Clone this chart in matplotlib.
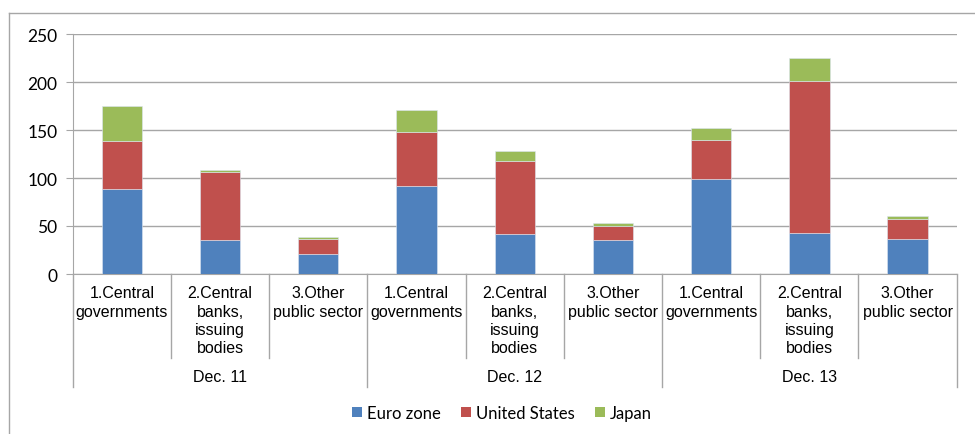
import numpy as np
import matplotlib.pyplot as plt
from matplotlib.lines import Line2D
from matplotlib.patches import Patch

groups = ["Dec. 11", "Dec. 12", "Dec. 13"]
categories = ["1.Central\ngovernments", "2.Central\nbanks,\nissuing\nbodies",
              "3.Other\npublic sector"]
series = ["Euro zone", "United States", "Japan"]
euro_zone = [89, 35, 21, 92, 42, 35, 99, 43, 36]
united_states = [50, 71, 15, 56, 76, 15, 41, 158, 21]
japan = [36, 2, 3, 23, 10, 3, 12, 24, 3]
colors = ["#4F81BD", "#C0504D", "#9BBB59"]


def main():
    fig = plt.figure(figsize=(9.75, 4.35), dpi=100)
    W, H = 975, 435
    ax = fig.add_axes([72.7 / W, (H - 275) / H, 884 / W, 240 / H])

    n = len(euro_zone)
    x = np.arange(n)
    bottom = np.zeros(n)
    for vals, col in zip([euro_zone, united_states, japan], colors):
        ax.bar(x, vals, width=0.41, bottom=bottom, color=col,
               edgecolor="#dce6f2", linewidth=0.4, zorder=3)
        bottom += np.array(vals)

    ax.set_xlim(-0.5, n - 0.5)
    ax.set_ylim(0, 250)
    ax.set_yticks(range(0, 251, 50))
    ax.yaxis.grid(True, color="#a6a6a6", linewidth=1.0, zorder=0)
    ax.tick_params(axis="y", length=5, color="#a6a6a6", labelsize=12.5, pad=6)
    for lab in ax.get_yticklabels():
        lab.set_fontfamily("Lato")
    ax.set_xticks([])
    for s in ["top", "right"]:
        ax.spines[s].set_visible(False)
    for s in ["left", "bottom"]:
        ax.spines[s].set_color("#a6a6a6")

    # multi-level category axis
    tr = ax.get_xaxis_transform()
    for i in range(n + 1):
        y_end = -0.471 if i % 3 == 0 else -0.35
        ax.add_line(Line2D([i - 0.5, i - 0.5], [0, y_end], transform=tr,
                           color="#a6a6a6", linewidth=1.0, clip_on=False))
    for i in range(n):
        ax.text(i, -0.047, categories[i % 3], transform=tr, ha="center",
                va="top", fontsize=11.5, family="Liberation Sans",
                linespacing=1.28)
    for g, name in enumerate(groups):
        ax.text(g * 3 + 1, -0.428, name, transform=tr, ha="center",
                va="center", fontsize=11.5, family="Liberation Sans")

    handles = [Patch(facecolor=c, edgecolor="none") for c in colors]
    fig.legend(handles, series, loc="center", bbox_to_anchor=(502 / W, 1 - 414 / H),
               ncol=3, frameon=False, handlelength=0.6, handleheight=0.6,
               handletextpad=0.3, columnspacing=1.2,
               prop={"family": "Lato", "size": 12})

    # outer chart frame
    fig.add_artist(Line2D([9 / W, 1.0], [1 - 14 / H, 1 - 14 / H],
                          transform=fig.transFigure, color="#a6a6a6", linewidth=1.0))
    fig.add_artist(Line2D([9 / W, 9 / W], [0.0, 1 - 14 / H],
                          transform=fig.transFigure, color="#a6a6a6", linewidth=1.0))

    fig.savefig("out.png", dpi=100)
    plt.close()


if __name__ == '__main__':
    main()
